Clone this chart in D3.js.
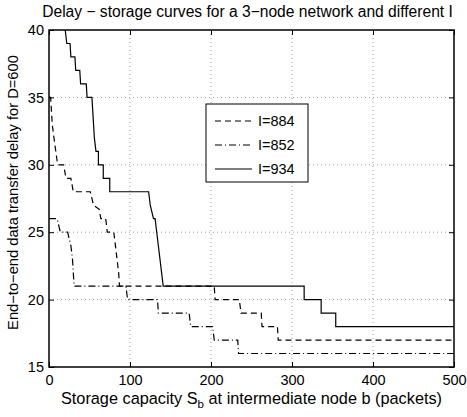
<!DOCTYPE html>
<html><head><meta charset="utf-8">
<script src="https://cdn.jsdelivr.net/npm/d3@7"></script>
<style>body{margin:0;background:#fff}svg{display:block}text{font-family:"Liberation Sans",Arial,Helvetica,sans-serif}</style>
</head><body>
<script>
const seriesNames = ["I=884", "I=852", "I=934"];
const dashes = ["6,4", "7,3,1,3", null];
// I=884 (dashed)
const sI884 = [[0,35],[2,35],[4,33],[7,31.6],[10,30.3],[11,30],[18,30],[21,29],[27,29],[30,28],[51,28],[55,27],[62,26.7],[64,26],[70,26],[72,25],[80,25],[82,24],[84,23],[86,22],[87,21],[204,21],[205,20],[235,20],[237,19],[262,19],[263,18],[282,18],[283,17],[500,17]];
// I=852 (dash-dot)
const sI852 = [[0,26],[10,26],[14,25],[23,25],[27,24],[29,23],[30,22],[31,21],[95,21],[97,20],[134,20],[135,19],[173,19],[175,18],[202,18],[204,17],[233,17],[234,16],[500,16]];
// I=934 (solid)
const sI934 = [[20,40],[22,39],[26,39],[27,38],[32,38],[33,37],[38,37],[39,36],[46,36],[47,35],[53,35],[55,33],[56,32],[58,31],[61,31],[61,30],[67,30],[67,29],[75,29],[75,28],[123,28],[125,27],[129,26],[131,26],[133,25],[137,23],[141,21],[315,21],[315,20],[336,20],[336,19],[354,19],[354,18],[500,18]];
const xTicks = [0,100,200,300,400,500];
const yTicks = [15,20,25,30,35,40];
const title = "Delay \u2212 storage curves for a 3\u2212node network and different I";
const yLabel = "End\u2212to\u2212end data transfer delay for D=600";

const W=467,H=417, L=49,R=454,T=30,B=367;
const svg=d3.select("body").append("svg").attr("width",W).attr("height",H);
const x=d3.scaleLinear().domain([0,500]).range([L,R]);
const y=d3.scaleLinear().domain([15,40]).range([B,T]);

// grid
const g=svg.append("g");
g.selectAll("line.gx").data(xTicks.slice(1,-1)).join("line").attr("x1",d=>x(d)).attr("x2",d=>x(d)).attr("y1",T).attr("y2",B)
 .attr("stroke","#000").attr("stroke-width",0.6).attr("stroke-dasharray","1,3").attr("opacity",0.6);
g.selectAll("line.gy").data(yTicks.slice(1,-1)).join("line").attr("y1",d=>y(d)).attr("y2",d=>y(d)).attr("x1",L).attr("x2",R)
 .attr("stroke","#000").attr("stroke-width",0.6).attr("stroke-dasharray","1,3").attr("opacity",0.6);

svg.append("clipPath").attr("id","cp").append("rect").attr("x",L).attr("y",T).attr("width",R-L).attr("height",B-T);
const line=d3.line().x(d=>x(d[0])).y(d=>y(d[1]));
[sI884,sI852,sI934].forEach((s,i)=>{
  svg.append("path").attr("clip-path","url(#cp)").attr("d",line(s)).attr("fill","none").attr("stroke","#000")
   .attr("stroke-width",1.2).attr("stroke-dasharray",dashes[i]);
});

// axes
const ax=d3.axisBottom(x).tickValues(xTicks).tickSize(-5).tickPadding(8);
const ay=d3.axisLeft(y).tickValues(yTicks).tickSize(-5).tickPadding(5);
const gx=svg.append("g").attr("transform",`translate(0,${B})`).call(ax);
const gy=svg.append("g").attr("transform",`translate(${L},0)`).call(ay);
svg.append("g").attr("transform",`translate(0,${T})`).call(d3.axisTop(x).tickValues(xTicks).tickSize(-5).tickFormat(""));
svg.append("g").attr("transform",`translate(${R},0)`).call(d3.axisRight(y).tickValues(yTicks).tickSize(-5).tickFormat(""));
svg.selectAll(".domain").remove();
svg.selectAll(".tick line").attr("stroke","#000").attr("stroke-width",1);
[gx,gy].forEach(a=>a.selectAll("text").attr("font-size",14.5).attr("fill","#000").attr("font-family","'Liberation Sans',Arial,sans-serif"));
gx.selectAll("text").attr("dy","0.71em");
svg.append("rect").attr("x",L).attr("y",T).attr("width",R-L).attr("height",B-T).attr("fill","none").attr("stroke","#000").attr("stroke-width",1.5);

// title & labels
svg.append("text").attr("x",(L+R)/2-4).attr("y",17).attr("text-anchor","middle").attr("font-size",15.6).text(title);
const xl=svg.append("text").attr("x",(L+R)/2).attr("y",404).attr("text-anchor","middle").attr("font-size",16.3);
xl.append("tspan").text("Storage capacity S");
xl.append("tspan").attr("font-size",11.5).attr("dy",4).text("b");
xl.append("tspan").attr("dy",-4).text(" at intermediate node b (packets)");
svg.append("text").attr("transform",`translate(18,${(T+B)/2-6}) rotate(-90)`).attr("text-anchor","middle").attr("font-size",14.7).text(yLabel);

// legend
const lx=206, ly=104, lw=102, lh=78;
svg.append("rect").attr("x",lx).attr("y",ly).attr("width",lw).attr("height",lh).attr("fill","#fff").attr("stroke","#000").attr("stroke-width",1);
const rows=[121,145,169];
seriesNames.forEach((n,i)=>{
  svg.append("line").attr("x1",lx+9).attr("x2",lx+46).attr("y1",rows[i]).attr("y2",rows[i]).attr("stroke","#000").attr("stroke-width",1.2).attr("stroke-dasharray",dashes[i]);
  svg.append("text").attr("x",lx+52).attr("y",rows[i]+5).attr("font-size",14.5).text(n);
});
</script>
</body></html>
